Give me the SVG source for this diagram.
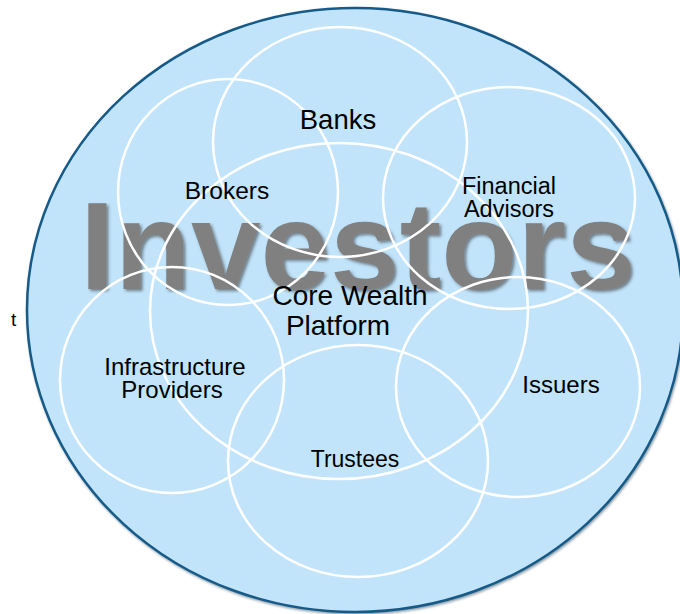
<svg xmlns="http://www.w3.org/2000/svg" width="680" height="614" viewBox="0 0 680 614">
  <defs>
    <filter id="softShadow" x="-10%" y="-20%" width="120%" height="140%">
      <feDropShadow dx="2" dy="2" stdDeviation="1.5" flood-color="#2a2a2a" flood-opacity="0.55"/>
    </filter>
    <filter id="rimShadow" x="-5%" y="-5%" width="110%" height="110%">
      <feDropShadow dx="1" dy="1.5" stdDeviation="1" flood-color="#0b3550" flood-opacity="0.5"/>
    </filter>
  </defs>
  <style>
    .ring { fill: none; stroke: #ffffff; stroke-width: 2.5; }
    .label { font-family: "Liberation Sans", Arial, Helvetica, sans-serif; fill: #000000; text-anchor: middle; }
    .big { font-family: "Liberation Sans", Arial, Helvetica, sans-serif; font-weight: bold; fill: #808080; }
  </style>
  <rect width="680" height="614" fill="#ffffff"/>

  <!-- stray margin letter -->
  <text x="11" y="326" font-family="Liberation Sans, Arial, sans-serif" font-size="19" fill="#000">t</text>

  <!-- outer investors field -->
  <g id="investors">
    <ellipse cx="355" cy="310" rx="328" ry="302" fill="#c1e4fb" stroke="#175a88" stroke-width="2.5" filter="url(#rimShadow)"/>
    <text class="big" x="80" y="289" font-size="125" filter="url(#softShadow)">Investors</text>
  </g>

  <!-- overlapping participant rings -->
  <g id="rings">
    <ellipse class="ring" cx="340" cy="142" rx="127" ry="115"/>
    <ellipse class="ring" cx="228" cy="192" rx="110" ry="113"/>
    <ellipse class="ring" cx="509" cy="198" rx="126" ry="111"/>
    <ellipse class="ring" cx="339" cy="311" rx="189" ry="168"/>
    <ellipse class="ring" cx="172" cy="380" rx="112" ry="113"/>
    <ellipse class="ring" cx="518" cy="387" rx="122" ry="110"/>
    <ellipse class="ring" cx="358" cy="461" rx="130" ry="116"/>
  </g>

  <g id="banks"><text class="label" x="338" y="129" font-size="27.5">Banks</text></g>
  <g id="brokers"><text class="label" x="227" y="199" font-size="24.5">Brokers</text></g>
  <g id="financial-advisors">
    <text class="label" x="509" y="194" font-size="23.5">Financial</text>
    <text class="label" x="509" y="217" font-size="23.5">Advisors</text>
  </g>
  <g id="core-wealth-platform">
    <text class="label" x="350" y="305" font-size="28">Core Wealth</text>
    <text class="label" x="338" y="335" font-size="28">Platform</text>
  </g>
  <g id="infrastructure-providers">
    <text class="label" x="175" y="375" font-size="24">Infrastructure</text>
    <text class="label" x="172" y="398" font-size="24">Providers</text>
  </g>
  <g id="trustees"><text class="label" x="355" y="467" font-size="23">Trustees</text></g>
  <g id="issuers"><text class="label" x="561" y="393" font-size="24">Issuers</text></g>
</svg>
